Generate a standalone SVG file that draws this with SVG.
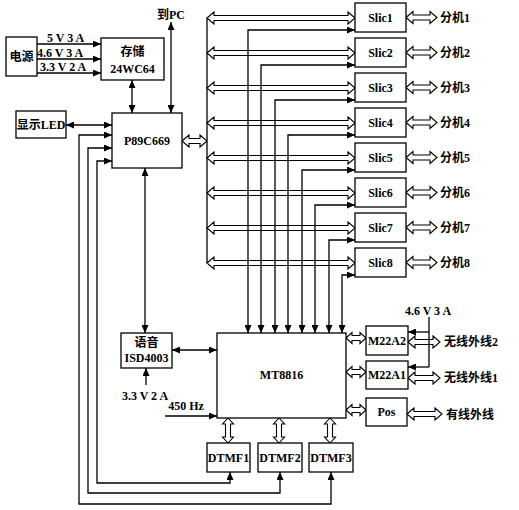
<svg xmlns="http://www.w3.org/2000/svg" width="519" height="510" viewBox="0 0 519 510">
<style>
.box{fill:#fff;stroke:#000;stroke-width:1.3}
.ln{fill:none;stroke:#000;stroke-width:1.3}
.ho{fill:#fff;stroke:#000;stroke-width:1.1}
text{font-family:"Liberation Serif","Noto Sans CJK SC",serif;font-weight:bold;font-size:12px;fill:#000}
.c{text-anchor:middle}
</style>
<defs>
<marker id="a" viewBox="0 0 8 7" refX="8" refY="3.5" markerWidth="8" markerHeight="7" markerUnits="userSpaceOnUse" orient="auto-start-reverse"><path d="M0,0 L8,3.5 L0,7 Z" fill="#000"/></marker>
<path id="bus" d="M207,0 L214,-6 L214,-2.5 L348,-2.5 L348,-6 L355,0 L348,6 L348,2.5 L214,2.5 L214,6 Z"/>
<path id="ext" d="M406,0 L413,-6 L413,-2.5 L430,-2.5 L430,-6 L437,0 L430,6 L430,2.5 L413,2.5 L413,6 Z"/>
<path id="mt" d="M346,0 L352,-5.5 L352,-2.5 L360,-2.5 L360,-5.5 L366,0 L360,5.5 L360,2.5 L352,2.5 L352,5.5 Z"/>
<path id="out" d="M408,0 L415,-6 L415,-2.5 L433,-2.5 L433,-6 L440,0 L433,6 L433,2.5 L415,2.5 L415,6 Z"/>
<path id="dt" d="M0,418 L-5.5,424 L-2.5,424 L-2.5,437 L-5.5,437 L0,443 L5.5,437 L2.5,437 L2.5,424 L5.5,424 Z"/>
</defs>
<rect width="519" height="510" fill="#fff"/>
<g id="connectors">
<g class="ho">
<use href="#bus" y="18"/><use href="#bus" y="53"/><use href="#bus" y="88"/><use href="#bus" y="123"/>
<use href="#bus" y="158"/><use href="#bus" y="193"/><use href="#bus" y="228"/><use href="#bus" y="263"/>
<use href="#ext" y="17.5"/><use href="#ext" y="52.5"/><use href="#ext" y="87.5"/><use href="#ext" y="122.5"/>
<use href="#ext" y="157.5"/><use href="#ext" y="192.5"/><use href="#ext" y="227.5"/><use href="#ext" y="262.5"/>
<path d="M182,141 L189,135 L189,138.5 L200,138.5 L200,135 L207,141 L200,147 L200,143.5 L189,143.5 L189,147 Z"/>
<use href="#mt" y="338"/><use href="#mt" y="372"/><use href="#mt" y="410"/>
<use href="#out" y="342"/><use href="#out" y="378"/>
<path d="M407,414 L414,408 L414,411.5 L435,411.5 L435,408 L442,414 L435,420 L435,416.5 L414,416.5 L414,420 Z"/>
<use href="#dt" x="228"/><use href="#dt" x="279"/><use href="#dt" x="330"/>
</g>
<g class="ln">
<line x1="207" y1="18" x2="207" y2="263"/>
<line x1="37" y1="44" x2="101" y2="44" marker-end="url(#a)"/>
<line x1="37" y1="59" x2="101" y2="59" marker-end="url(#a)"/>
<line x1="37" y1="73" x2="101" y2="73" marker-end="url(#a)"/>
<line x1="171" y1="22" x2="171" y2="113" marker-start="url(#a)" marker-end="url(#a)"/>
<line x1="132" y1="80" x2="132" y2="113" marker-start="url(#a)" marker-end="url(#a)"/>
<line x1="66" y1="125" x2="112" y2="125" marker-start="url(#a)" marker-end="url(#a)"/>
<line x1="145" y1="168" x2="145" y2="333" marker-start="url(#a)" marker-end="url(#a)"/>
<line x1="172" y1="350" x2="217" y2="350" marker-start="url(#a)" marker-end="url(#a)"/>
<line x1="146" y1="385" x2="146" y2="368" marker-end="url(#a)"/>
<line x1="165" y1="416" x2="217" y2="416" marker-end="url(#a)"/>
<line x1="429" y1="317" x2="429" y2="367"/>
<line x1="429" y1="332" x2="408" y2="332" marker-end="url(#a)"/>
<line x1="429" y1="367" x2="408" y2="367" marker-end="url(#a)"/>
<path d="M248,333 L248,30 L355,30" marker-start="url(#a)" marker-end="url(#a)"/>
<path d="M261,333 L261,65 L355,65" marker-start="url(#a)" marker-end="url(#a)"/>
<path d="M275,333 L275,100 L355,100" marker-start="url(#a)" marker-end="url(#a)"/>
<path d="M288,333 L288,135 L355,135" marker-start="url(#a)" marker-end="url(#a)"/>
<path d="M302,333 L302,170 L355,170" marker-start="url(#a)" marker-end="url(#a)"/>
<path d="M315,333 L315,205 L355,205" marker-start="url(#a)" marker-end="url(#a)"/>
<path d="M329,333 L329,240 L355,240" marker-start="url(#a)" marker-end="url(#a)"/>
<path d="M342,333 L342,275 L355,275" marker-start="url(#a)" marker-end="url(#a)"/>
<path d="M112,161 L97,161 L97,483 L230,483 L230,472" marker-start="url(#a)" marker-end="url(#a)"/>
<path d="M112,148 L88,148 L88,493 L280,493 L280,472" marker-start="url(#a)" marker-end="url(#a)"/>
<path d="M112,135 L79,135 L79,504 L331,504 L331,472" marker-start="url(#a)" marker-end="url(#a)"/>
</g>
<text x="47" y="42">5 V 3 A</text>
<text x="37" y="57">4.6 V 3 A</text>
<text x="40" y="71">3.3 V 2 A</text>
<text x="171" y="19" class="c">到PC</text>
<text x="145" y="400" class="c">3.3 V 2 A</text>
<text x="186" y="410" class="c">450 Hz</text>
<text x="428" y="315" class="c">4.6 V 3 A</text>
</g>
<g id="power"><rect class="box" x="6" y="37" width="31" height="39"/><text x="21.5" y="61" class="c">电源</text></g>
<g id="storage"><rect class="box" x="101" y="38" width="63" height="42"/><text x="132.5" y="56" class="c">存储</text><text x="132.5" y="73" class="c">24WC64</text></g>
<g id="led"><rect class="box" x="16" y="111" width="50" height="27"/><text x="41" y="129" class="c">显示LED</text></g>
<g id="p89"><rect class="box" x="112" y="113" width="70" height="55"/><text x="147" y="145" class="c">P89C669</text></g>
<g id="voice"><rect class="box" x="121" y="333" width="51" height="35"/><text x="146.5" y="347" class="c">语音</text><text x="146.5" y="362" class="c">ISD4003</text></g>
<g id="mt8816"><rect class="box" x="217" y="333" width="129" height="85"/><text x="281.5" y="379" class="c">MT8816</text></g>
<g id="dtmf1"><rect class="box" x="207" y="443" width="43" height="29"/><text x="228.5" y="462" class="c">DTMF1</text></g>
<g id="dtmf2"><rect class="box" x="258" y="443" width="44" height="29"/><text x="280" y="462" class="c">DTMF2</text></g>
<g id="dtmf3"><rect class="box" x="309" y="443" width="44" height="29"/><text x="331" y="462" class="c">DTMF3</text></g>
<g id="m22a2"><rect class="box" x="366" y="326" width="42" height="29"/><text x="387" y="345" class="c">M22A2</text></g>
<g id="m22a1"><rect class="box" x="366" y="361" width="42" height="28"/><text x="387" y="379" class="c">M22A1</text></g>
<g id="pos"><rect class="box" x="366" y="398" width="41" height="28"/><text x="386.5" y="416" class="c">Pos</text></g>
<g id="slic1"><rect class="box" x="355" y="3" width="51" height="29"/><text x="380.5" y="22" class="c">Slic1</text></g>
<g id="slic2"><rect class="box" x="355" y="38" width="51" height="29"/><text x="380.5" y="57" class="c">Slic2</text></g>
<g id="slic3"><rect class="box" x="355" y="73" width="51" height="29"/><text x="380.5" y="92" class="c">Slic3</text></g>
<g id="slic4"><rect class="box" x="355" y="108" width="51" height="29"/><text x="380.5" y="127" class="c">Slic4</text></g>
<g id="slic5"><rect class="box" x="355" y="143" width="51" height="29"/><text x="380.5" y="162" class="c">Slic5</text></g>
<g id="slic6"><rect class="box" x="355" y="178" width="51" height="29"/><text x="380.5" y="197" class="c">Slic6</text></g>
<g id="slic7"><rect class="box" x="355" y="213" width="51" height="29"/><text x="380.5" y="232" class="c">Slic7</text></g>
<g id="slic8"><rect class="box" x="355" y="248" width="51" height="29"/><text x="380.5" y="267" class="c">Slic8</text></g>
<g id="ext1"><text x="440" y="22">分机1</text></g>
<g id="ext2"><text x="440" y="57">分机2</text></g>
<g id="ext3"><text x="440" y="92">分机3</text></g>
<g id="ext4"><text x="440" y="127">分机4</text></g>
<g id="ext5"><text x="440" y="162">分机5</text></g>
<g id="ext6"><text x="440" y="197">分机6</text></g>
<g id="ext7"><text x="440" y="232">分机7</text></g>
<g id="ext8"><text x="440" y="267">分机8</text></g>
<g id="wl2"><text x="444" y="346">无线外线2</text></g>
<g id="wl1"><text x="444" y="382">无线外线1</text></g>
<g id="wired"><text x="446" y="419">有线外线</text></g>
</svg>
